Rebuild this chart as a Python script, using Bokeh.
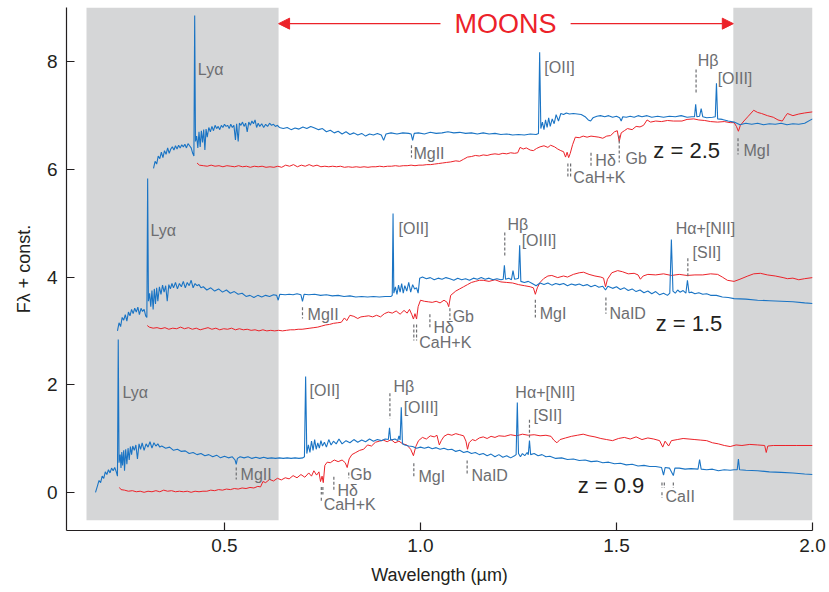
from bokeh.plotting import figure
from bokeh.models import Range1d, BoxAnnotation, Arrow, NormalHead, ColumnDataSource, FixedTicker, PrintfTickFormatter
from bokeh.core.properties import value
from bokeh.embed import file_html
from bokeh.resources import INLINE

# ---------------- data (wavelength in micron, flux + constant) ----------------
BLUE_Z09 = [(0.171,0.00),(0.176,0.12),(0.180,0.22),(0.184,0.18),(0.188,0.30),(0.192,0.26),(0.196,0.38),(0.200,0.33),
 (0.204,0.42),(0.208,0.36),(0.212,0.45),(0.216,0.40),(0.220,0.46),(0.224,0.38),(0.227,0.30),(0.229,2.84),(0.231,0.55),
 (0.234,0.70),(0.236,0.45),(0.238,0.75),(0.240,0.50),(0.243,0.78),(0.245,0.40),(0.248,0.80),(0.251,0.52),(0.254,0.82),
 (0.257,0.60),(0.260,0.85),(0.263,0.70),(0.266,0.86),(0.270,0.78),(0.274,0.88),(0.278,0.62),(0.282,0.90),(0.286,0.80),
 (0.290,0.92),(0.295,0.78),(0.300,0.90),(0.305,0.84),(0.310,0.94),(0.315,0.82),(0.320,0.92),(0.325,0.86),(0.330,0.90),
 (0.335,0.84),(0.340,0.86),(0.350,0.82),(0.360,0.84),(0.370,0.78),(0.380,0.80),(0.390,0.76),(0.400,0.77),(0.410,0.72),
 (0.420,0.74),(0.430,0.70),(0.440,0.72),(0.450,0.68),(0.460,0.70),(0.470,0.66),(0.480,0.69),(0.490,0.64),(0.500,0.67),
 (0.510,0.64),(0.520,0.66),(0.527,0.60),(0.530,0.52),(0.533,0.63),(0.540,0.66),(0.550,0.64),(0.560,0.66),(0.570,0.63),
 (0.580,0.65),(0.590,0.63),(0.600,0.65),(0.610,0.63),(0.620,0.64),(0.630,0.63),(0.640,0.64),(0.650,0.63),(0.660,0.64),
 (0.670,0.63),(0.680,0.64),(0.690,0.63),(0.700,0.64),(0.704,0.66),(0.707,2.15),(0.710,0.72),(0.714,0.88),(0.718,0.74),
 (0.722,0.95),(0.726,0.78),(0.730,0.98),(0.734,0.80),(0.738,0.92),(0.742,0.82),(0.746,0.96),(0.750,0.86),(0.755,0.93),
 (0.760,0.84),(0.766,0.98),(0.772,0.88),(0.778,0.95),(0.785,0.90),(0.792,0.99),(0.800,0.90),(0.810,0.96),(0.820,0.92),
 (0.830,0.98),(0.840,0.93),(0.850,0.97),(0.860,0.94),(0.870,0.99),(0.880,0.95),(0.890,0.98),(0.900,0.96),(0.910,0.99),
 (0.918,0.98),(0.921,1.20),(0.924,0.97),(0.935,0.99),(0.942,0.96),(0.945,1.05),(0.948,0.97),(0.951,1.58),(0.954,0.90),
 (0.960,0.88),(0.970,0.86),(0.980,0.85),(0.990,0.82),(1.000,0.84),(1.010,0.82),(1.020,0.84),(1.030,0.81),(1.040,0.83),
 (1.050,0.80),(1.060,0.82),(1.070,0.79),(1.080,0.80),(1.090,0.76),(1.100,0.78),(1.110,0.74),(1.120,0.76),(1.130,0.72),
 (1.140,0.74),(1.150,0.70),(1.160,0.72),(1.170,0.68),(1.180,0.71),(1.190,0.66),(1.200,0.70),(1.210,0.65),(1.220,0.68),
 (1.230,0.64),(1.240,0.68),(1.244,0.70),(1.247,1.67),(1.250,0.72),(1.255,0.66),(1.260,0.72),(1.266,0.68),(1.272,0.74),
 (1.275,0.70),(1.278,0.96),(1.281,0.70),(1.290,0.72),(1.300,0.68),(1.310,0.70),(1.320,0.66),(1.330,0.67),(1.345,0.63),
 (1.360,0.64),(1.375,0.61),(1.390,0.62),(1.405,0.59),(1.420,0.60),(1.435,0.57),(1.450,0.58),(1.465,0.55),(1.480,0.56),
 (1.495,0.53),(1.510,0.54),(1.525,0.51),(1.540,0.52),(1.555,0.49),(1.570,0.50),(1.585,0.48),(1.600,0.48),(1.615,0.46),
 (1.620,0.32),(1.624,0.46),(1.635,0.45),(1.645,0.31),(1.649,0.45),(1.660,0.45),(1.675,0.43),(1.690,0.44),(1.708,0.43),
 (1.712,0.61),(1.716,0.43),(1.730,0.42),(1.745,0.43),(1.760,0.40),(1.775,0.42),(1.790,0.41),(1.800,0.42),(1.808,0.42),
 (1.811,0.62),(1.814,0.42),(1.830,0.41),(1.860,0.40),(1.890,0.38),(1.920,0.37),(1.950,0.36),(1.980,0.34),(2.000,0.33)]

RED_Z09 = [(0.232,0.09),(0.236,0.05),(0.245,0.04),(0.255,0.02),(0.265,0.03),(0.275,0.01),(0.285,0.02),(0.295,0.00),
 (0.305,0.02),(0.315,0.01),(0.325,0.03),(0.335,0.01),(0.345,0.04),(0.355,0.02),(0.365,0.03),(0.375,0.01),(0.385,0.02),
 (0.395,0.01),(0.405,0.02),(0.415,0.00),(0.425,0.02),(0.435,0.01),(0.445,0.02),(0.455,0.02),(0.465,0.04),(0.475,0.03),
 (0.485,0.05),(0.495,0.04),(0.505,0.06),(0.515,0.05),(0.525,0.07),(0.535,0.06),(0.545,0.08),(0.555,0.07),(0.565,0.09),
 (0.575,0.08),(0.585,0.11),(0.592,0.10),(0.598,0.20),(0.605,0.18),(0.615,0.24),(0.625,0.21),(0.635,0.26),(0.645,0.23),
 (0.655,0.27),(0.665,0.25),(0.675,0.31),(0.685,0.27),(0.695,0.33),(0.705,0.28),(0.715,0.36),(0.722,0.30),(0.728,0.40),
 (0.735,0.32),(0.741,0.38),(0.745,0.20),(0.749,0.30),(0.752,0.18),(0.756,0.50),(0.762,0.56),(0.770,0.55),(0.780,0.60),
 (0.790,0.57),(0.800,0.60),(0.808,0.55),(0.813,0.46),(0.818,0.62),(0.825,0.70),(0.835,0.74),(0.845,0.78),(0.855,0.80),
 (0.865,0.88),(0.875,0.86),(0.885,0.93),(0.895,0.95),(0.905,0.97),(0.915,0.94),(0.925,0.98),(0.935,0.92),(0.945,0.95),
 (0.955,0.90),(0.965,0.88),(0.975,0.80),(0.982,0.68),(0.988,0.85),(0.995,0.96),(1.005,1.02),(1.015,0.99),(1.025,1.05),
 (1.035,1.03),(1.042,1.06),(1.048,0.88),(1.053,0.96),(1.060,1.04),(1.070,1.08),(1.080,1.06),(1.090,1.09),(1.100,1.07),
 (1.110,1.05),(1.116,0.95),(1.120,0.80),(1.124,0.92),(1.132,0.98),(1.140,0.96),(1.150,1.01),(1.160,1.03),(1.170,1.00),
 (1.180,1.04),(1.190,1.02),(1.200,1.05),(1.215,1.04),(1.230,1.07),(1.245,1.05),(1.260,1.08),(1.275,1.06),(1.290,1.07),
 (1.305,1.05),(1.320,1.06),(1.333,1.04),(1.340,0.97),(1.348,0.92),(1.356,0.98),(1.370,1.01),(1.385,1.04),(1.400,1.06),
 (1.415,1.08),(1.430,1.05),(1.445,1.03),(1.460,1.00),(1.475,0.98),(1.490,0.96),(1.505,1.00),(1.520,1.02),(1.535,0.99),
 (1.550,1.03),(1.565,0.98),(1.580,1.01),(1.595,0.99),(1.610,0.96),(1.618,0.84),(1.624,0.95),(1.633,0.86),(1.640,0.96),
 (1.655,0.98),(1.670,1.00),(1.685,0.99),(1.700,0.98),(1.715,0.97),(1.730,0.96),(1.745,0.92),(1.760,0.90),(1.775,0.87),
 (1.790,0.85),(1.805,0.88),(1.820,0.87),(1.840,0.89),(1.860,0.88),(1.878,0.87),(1.882,0.74),(1.886,0.86),(1.900,0.87),
 (1.930,0.87),(1.960,0.87),(2.000,0.87)]

BLUE_Z15 = [(0.227,3.00),(0.231,3.15),(0.235,3.08),(0.239,3.25),(0.243,3.20),(0.247,3.30),(0.251,3.18),(0.255,3.35),
 (0.259,3.28),(0.263,3.40),(0.267,3.32),(0.271,3.42),(0.275,3.35),(0.279,3.44),(0.283,3.30),(0.287,3.42),(0.291,3.36),
 (0.295,3.40),(0.299,3.28),(0.302,3.25),(0.304,5.83),(0.306,3.55),(0.309,3.70),(0.312,3.45),(0.315,3.75),(0.318,3.40),
 (0.321,3.78),(0.324,3.50),(0.327,3.80),(0.330,3.55),(0.334,3.82),(0.338,3.68),(0.342,3.85),(0.346,3.72),(0.350,3.84),
 (0.354,3.55),(0.358,3.86),(0.362,3.78),(0.366,3.88),(0.370,3.80),(0.375,3.90),(0.380,3.78),(0.385,3.88),(0.390,3.82),
 (0.395,3.92),(0.400,3.80),(0.405,3.90),(0.410,3.84),(0.415,3.94),(0.420,3.80),(0.425,3.88),(0.430,3.84),(0.435,3.86),
 (0.440,3.80),(0.446,3.82),(0.455,3.76),(0.465,3.80),(0.475,3.74),(0.485,3.78),(0.495,3.72),(0.505,3.76),(0.515,3.70),
 (0.525,3.73),(0.535,3.68),(0.545,3.70),(0.555,3.64),(0.565,3.66),(0.575,3.62),(0.585,3.66),(0.595,3.63),(0.605,3.66),
 (0.615,3.64),(0.625,3.67),(0.633,3.66),(0.637,3.57),(0.641,3.68),(0.655,3.67),(0.665,3.68),(0.675,3.67),(0.685,3.69),
 (0.695,3.67),(0.699,3.55),(0.703,3.68),(0.715,3.67),(0.730,3.68),(0.745,3.66),(0.760,3.67),(0.775,3.65),(0.790,3.66),
 (0.805,3.64),(0.820,3.65),(0.835,3.63),(0.850,3.64),(0.865,3.63),(0.880,3.64),(0.895,3.63),(0.910,3.64),(0.925,3.64),
 (0.928,3.66),(0.930,5.18),(0.932,3.70),(0.936,3.82),(0.940,3.68),(0.944,3.85),(0.948,3.72),(0.952,3.88),(0.956,3.70),
 (0.960,3.84),(0.965,3.74),(0.970,3.90),(0.975,3.72),(0.980,3.86),(0.985,3.78),(0.990,3.80),(0.994,3.70),(0.998,3.98),
 (1.005,4.00),(1.015,3.97),(1.025,3.99),(1.035,3.95),(1.045,3.98),(1.055,3.96),(1.065,3.99),(1.075,3.97),(1.085,3.94),
 (1.095,3.98),(1.105,3.95),(1.115,3.97),(1.125,3.94),(1.135,3.98),(1.145,3.96),(1.155,3.99),(1.165,3.96),(1.175,3.98),
 (1.185,3.95),(1.195,3.97),(1.205,3.95),(1.211,3.96),(1.214,4.22),(1.217,3.96),(1.225,3.98),(1.232,3.95),(1.236,4.12),
 (1.240,3.96),(1.246,3.97),(1.250,3.98),(1.253,4.59),(1.256,3.92),(1.265,3.90),(1.275,3.92),(1.285,3.88),(1.295,3.84),
 (1.305,3.89),(1.315,3.86),(1.325,3.89),(1.335,3.85),(1.345,3.88),(1.355,3.86),(1.365,3.88),(1.375,3.84),(1.385,3.87),
 (1.395,3.85),(1.405,3.87),(1.415,3.84),(1.425,3.86),(1.435,3.82),(1.445,3.85),(1.455,3.81),(1.465,3.83),(1.472,3.76),
 (1.478,3.83),(1.490,3.79),(1.500,3.82),(1.510,3.77),(1.520,3.80),(1.530,3.75),(1.540,3.78),(1.550,3.73),(1.560,3.76),
 (1.570,3.71),(1.580,3.74),(1.590,3.69),(1.600,3.73),(1.610,3.67),(1.620,3.70),(1.630,3.66),(1.636,3.70),(1.640,4.70),
 (1.644,3.74),(1.650,3.70),(1.656,3.76),(1.662,3.72),(1.670,3.75),(1.677,3.70),(1.681,3.94),(1.685,3.71),(1.692,3.72),
 (1.700,3.69),(1.710,3.71),(1.720,3.68),(1.730,3.69),(1.740,3.66),(1.755,3.66),(1.770,3.63),(1.785,3.62),(1.800,3.60),
 (1.830,3.59),(1.860,3.57),(1.890,3.56),(1.920,3.55),(1.950,3.54),(1.980,3.52),(2.000,3.51)]

RED_Z15 = [(0.303,3.10),(0.308,3.07),(0.318,3.05),(0.328,3.06),(0.338,3.04),(0.348,3.06),(0.358,3.03),(0.368,3.05),
 (0.378,3.04),(0.388,3.07),(0.398,3.04),(0.408,3.06),(0.418,3.03),(0.428,3.05),(0.438,3.02),(0.448,3.04),(0.458,3.06),
 (0.468,3.03),(0.478,3.05),(0.488,3.02),(0.498,3.04),(0.508,3.03),(0.518,3.05),(0.528,3.02),(0.538,3.04),(0.548,3.02),
 (0.558,3.03),(0.568,3.01),(0.578,3.02),(0.588,3.00),(0.598,3.02),(0.608,3.00),(0.618,3.01),(0.628,3.00),(0.638,3.01),
 (0.648,3.00),(0.658,3.01),(0.668,3.02),(0.678,3.02),(0.688,3.03),(0.698,3.03),(0.708,3.04),(0.718,3.05),(0.728,3.06),
 (0.738,3.07),(0.748,3.09),(0.758,3.11),(0.768,3.12),(0.778,3.14),(0.788,3.15),(0.798,3.16),(0.806,3.24),(0.812,3.19),
 (0.820,3.29),(0.830,3.27),(0.840,3.23),(0.848,3.26),(0.858,3.27),(0.868,3.28),(0.878,3.26),(0.888,3.29),(0.898,3.26),
 (0.908,3.32),(0.918,3.35),(0.928,3.33),(0.938,3.37),(0.948,3.31),(0.958,3.38),(0.966,3.33),(0.972,3.40),(0.978,3.30),
 (0.982,3.22),(0.986,3.32),(0.990,3.22),(0.994,3.45),(1.000,3.57),(1.010,3.55),(1.020,3.54),(1.030,3.53),(1.040,3.55),
 (1.050,3.52),(1.060,3.57),(1.068,3.53),(1.072,3.45),(1.077,3.66),(1.090,3.74),(1.100,3.78),(1.110,3.82),(1.120,3.86),
 (1.130,3.90),(1.140,3.92),(1.150,3.94),(1.160,3.94),(1.175,3.92),(1.190,3.95),(1.205,3.91),(1.220,3.90),(1.235,3.89),
 (1.250,3.86),(1.265,3.84),(1.280,3.82),(1.288,3.80),(1.293,3.68),(1.298,3.80),(1.305,3.90),(1.314,3.97),(1.325,4.02),
 (1.335,4.03),(1.350,3.99),(1.365,4.02),(1.375,4.00),(1.390,4.05),(1.405,4.08),(1.416,4.09),(1.430,4.05),(1.445,4.02),
 (1.460,4.00),(1.467,3.98),(1.472,3.82),(1.477,3.96),(1.488,4.08),(1.503,4.12),(1.515,4.10),(1.530,4.06),(1.545,4.07),
 (1.555,4.04),(1.561,3.96),(1.568,4.02),(1.580,4.05),(1.600,4.04),(1.620,4.06),(1.640,4.03),(1.660,4.05),(1.680,4.03),
 (1.700,4.04),(1.720,4.04),(1.740,4.06),(1.758,4.05),(1.770,4.00),(1.783,3.94),(1.800,3.92),(1.815,3.96),(1.835,4.02),
 (1.850,4.06),(1.867,4.07),(1.885,4.04),(1.905,4.02),(1.925,3.99),(1.936,3.97),(1.950,3.98),(1.965,3.95),(1.980,3.97),
 (2.000,3.99)]

BLUE_Z25 = [(0.319,6.02),(0.323,6.15),(0.327,6.10),(0.331,6.25),(0.335,6.20),(0.339,6.32),(0.343,6.22),(0.347,6.35),
 (0.351,6.28),(0.355,6.40),(0.359,6.30),(0.363,6.38),(0.367,6.42),(0.371,6.36),(0.375,6.44),(0.379,6.38),(0.383,6.45),
 (0.387,6.40),(0.391,6.46),(0.395,6.42),(0.399,6.47),(0.403,6.40),(0.407,6.48),(0.411,6.44),(0.415,6.40),(0.419,6.30),
 (0.422,6.25),(0.424,8.86),(0.426,6.52),(0.429,6.62),(0.432,6.40),(0.435,6.70),(0.438,6.42),(0.441,6.72),(0.444,6.50),
 (0.447,6.74),(0.450,6.36),(0.453,6.75),(0.456,6.60),(0.460,6.78),(0.464,6.70),(0.468,6.80),(0.472,6.72),(0.476,6.82),
 (0.480,6.76),(0.484,6.80),(0.488,6.74),(0.492,6.82),(0.496,6.78),(0.500,6.84),(0.504,6.80),(0.508,6.82),(0.512,6.76),
 (0.516,6.84),(0.520,6.78),(0.524,6.82),(0.528,6.55),(0.531,6.85),(0.535,6.52),(0.538,6.86),(0.542,6.82),(0.546,6.88),
 (0.550,6.80),(0.554,6.86),(0.558,6.70),(0.562,6.88),(0.566,6.82),(0.570,6.90),(0.574,6.85),(0.578,6.92),(0.582,6.78),
 (0.586,6.86),(0.590,6.80),(0.595,6.85),(0.600,6.78),(0.605,6.84),(0.610,6.80),(0.615,6.86),(0.620,6.82),(0.625,6.84),
 (0.630,6.80),(0.635,6.82),(0.640,6.78),(0.650,6.76),(0.660,6.78),(0.670,6.74),(0.680,6.77),(0.690,6.75),(0.700,6.79),
 (0.710,6.76),(0.720,6.80),(0.730,6.77),(0.740,6.74),(0.750,6.76),(0.760,6.70),(0.770,6.73),(0.780,6.68),(0.790,6.71),
 (0.800,6.66),(0.810,6.70),(0.820,6.65),(0.830,6.68),(0.840,6.64),(0.850,6.67),(0.860,6.62),(0.870,6.66),(0.880,6.64),
 (0.890,6.67),(0.900,6.64),(0.906,6.54),(0.912,6.66),(0.925,6.68),(0.940,6.66),(0.955,6.68),(0.970,6.67),(0.976,6.66),
 (0.980,6.54),(0.984,6.67),(0.995,6.68),(1.010,6.66),(1.025,6.69),(1.040,6.67),(1.055,6.68),(1.070,6.70),(1.085,6.68),
 (1.100,6.69),(1.115,6.67),(1.130,6.68),(1.145,6.66),(1.160,6.68),(1.175,6.66),(1.190,6.67),(1.205,6.65),(1.220,6.66),
 (1.235,6.64),(1.250,6.65),(1.265,6.64),(1.280,6.66),(1.295,6.65),(1.301,6.67),(1.304,8.18),(1.307,6.76),(1.311,6.88),
 (1.315,6.74),(1.319,6.92),(1.323,6.78),(1.327,6.96),(1.331,6.80),(1.336,6.94),(1.341,6.85),(1.346,7.02),(1.352,6.90),
 (1.358,7.04),(1.365,7.02),(1.372,7.05),(1.380,7.03),(1.390,7.04),(1.400,7.03),(1.410,7.02),(1.420,6.98),(1.428,6.92),
 (1.434,6.90),(1.440,6.96),(1.450,6.99),(1.459,7.00),(1.470,6.98),(1.480,7.00),(1.490,6.97),(1.500,6.99),(1.508,6.96),
 (1.512,6.90),(1.516,6.98),(1.525,6.97),(1.535,6.99),(1.545,6.97),(1.555,7.00),(1.565,6.98),(1.578,7.00),(1.590,6.97),
 (1.605,6.99),(1.620,6.97),(1.635,6.99),(1.650,6.98),(1.665,7.00),(1.680,6.97),(1.692,6.98),(1.699,6.98),(1.702,7.21),
 (1.705,6.98),(1.712,6.99),(1.716,7.13),(1.720,6.98),(1.730,6.96),(1.745,6.97),(1.752,6.98),(1.755,7.60),(1.758,6.94),
 (1.770,6.93),(1.785,6.90),(1.800,6.88),(1.815,6.83),(1.830,6.86),(1.845,6.84),(1.860,6.86),(1.875,6.83),(1.890,6.85),
 (1.905,6.84),(1.920,6.86),(1.935,6.83),(1.950,6.85),(1.965,6.84),(1.980,6.86),(2.000,6.94)]

RED_Z25 = [(0.430,6.12),(0.436,6.08),(0.446,6.07),(0.456,6.06),(0.466,6.08),(0.476,6.06),(0.486,6.07),(0.496,6.05),
 (0.506,6.07),(0.516,6.06),(0.526,6.05),(0.536,6.07),(0.546,6.05),(0.556,6.06),(0.566,6.04),(0.576,6.06),(0.586,6.05),
 (0.596,6.06),(0.606,6.04),(0.616,6.05),(0.626,6.04),(0.636,6.06),(0.646,6.04),(0.656,6.08),(0.666,6.06),(0.676,6.09),
 (0.686,6.05),(0.696,6.08),(0.706,6.06),(0.716,6.09),(0.726,6.06),(0.736,6.08),(0.746,6.05),(0.756,6.06),(0.766,6.05),
 (0.776,6.06),(0.786,6.05),(0.796,6.06),(0.806,6.04),(0.816,6.05),(0.826,6.04),(0.836,6.05),(0.846,6.04),(0.856,6.05),
 (0.866,6.04),(0.876,6.05),(0.886,6.05),(0.896,6.06),(0.906,6.05),(0.916,6.06),(0.926,6.06),(0.936,6.07),(0.946,6.06),
 (0.956,6.07),(0.966,6.07),(0.976,6.08),(0.986,6.07),(0.996,6.08),(1.006,6.08),(1.016,6.09),(1.026,6.09),(1.036,6.10),
 (1.046,6.11),(1.056,6.12),(1.066,6.13),(1.077,6.14),(1.090,6.16),(1.100,6.15),(1.110,6.19),(1.120,6.23),(1.130,6.24),
 (1.140,6.26),(1.150,6.25),(1.160,6.27),(1.170,6.26),(1.180,6.28),(1.190,6.29),(1.200,6.28),(1.210,6.30),(1.220,6.29),
 (1.230,6.31),(1.240,6.30),(1.248,6.31),(1.254,6.41),(1.262,6.38),(1.270,6.40),(1.280,6.36),(1.288,6.35),(1.296,6.39),
 (1.305,6.42),(1.315,6.44),(1.325,6.41),(1.332,6.45),(1.342,6.42),(1.350,6.38),(1.358,6.35),(1.365,6.33),(1.370,6.23),
 (1.374,6.32),(1.378,6.22),(1.382,6.30),(1.388,6.46),(1.395,6.60),(1.405,6.59),(1.415,6.62),(1.425,6.60),(1.435,6.62),
 (1.445,6.61),(1.455,6.60),(1.465,6.58),(1.475,6.62),(1.485,6.63),(1.495,6.70),(1.502,6.72),(1.507,6.52),(1.512,6.68),
 (1.520,6.72),(1.528,6.76),(1.540,6.74),(1.550,6.80),(1.560,6.79),(1.569,6.82),(1.578,6.92),(1.587,6.88),(1.600,6.90),
 (1.615,6.89),(1.630,6.91),(1.645,6.90),(1.667,6.90),(1.680,6.93),(1.697,6.94),(1.710,6.92),(1.725,6.91),(1.740,6.89),
 (1.758,6.88),(1.775,6.89),(1.790,6.87),(1.800,6.87),(1.806,6.80),(1.811,6.71),(1.816,6.82),(1.825,6.90),(1.835,6.98),
 (1.850,7.10),(1.860,7.06),(1.870,7.04),(1.885,7.00),(1.900,6.97),(1.912,6.92),(1.923,6.90),(1.930,6.98),(1.936,7.04),
 (1.950,7.00),(1.965,7.03),(1.980,7.05),(2.000,7.07)]

X_TICKS = [0.5, 1.0, 1.5, 2.0]
Y_TICKS = [0, 2, 4, 6, 8]
REDSHIFTS = ["z = 0.9", "z = 1.5", "z = 2.5"]
MOONS_BAND = (0.638, 1.798)          # wavelength coverage of MOONS
GREY_BANDS = [(0.148, 0.638), (1.798, 2.0)]

# line identifications: (text, x of text, y of text)
LINE_LABELS = [
    ("Lyα", 0.432, 7.86), ("[OII]", 1.316, 7.90), ("Hβ", 1.707, 8.03), ("[OIII]", 1.758, 7.69),
    ("MgII", 0.982, 6.30), ("CaH+K", 1.390, 5.85), ("Hδ", 1.446, 6.17), ("Gb", 1.523, 6.20), ("MgI", 1.824, 6.35),
    ("Lyα", 0.311, 4.87), ("[OII]", 0.944, 4.90), ("Hβ", 1.222, 4.98), ("[OIII]", 1.258, 4.68),
    ("MgII", 0.712, 3.30), ("CaH+K", 0.997, 2.78), ("Hδ", 1.033, 3.06), ("Gb", 1.082, 3.27),
    ("MgI", 1.304, 3.32), ("NaID", 1.482, 3.32), ("Hα+[NII]", 1.651, 4.90), ("[SII]", 1.694, 4.46),
    ("Lyα", 0.240, 1.86), ("[OII]", 0.717, 1.89), ("MgII", 0.541, 0.33), ("CaH+K", 0.753, -0.23),
    ("Hδ", 0.788, 0.03), ("Gb", 0.821, 0.33), ("Hβ", 0.931, 1.97), ("[OIII]", 0.957, 1.58),
    ("MgI", 0.995, 0.29), ("NaID", 1.130, 0.31), ("Hα+[NII]", 1.242, 1.86), ("[SII]", 1.288, 1.43),
    ("CaII", 1.625, -0.08),
]
# dashed line markers: (x, y top, y bottom)
MARKERS = [
    (1.703, 7.86, 7.41), (0.977, 6.45, 6.22), (1.376, 6.11, 5.83), (1.383, 6.11, 5.83),
    (1.435, 6.31, 6.03), (1.507, 6.63, 6.13), (1.810, 6.58, 6.28),
    (1.215, 4.83, 4.40), (0.699, 3.44, 3.23), (0.983, 3.12, 2.82), (0.990, 3.12, 2.82),
    (1.024, 3.31, 3.05), (1.075, 3.42, 3.20), (1.293, 3.58, 3.25), (1.473, 3.62, 3.32), (1.682, 4.35, 4.00),
    (0.530, 0.46, 0.24), (0.747, 0.10, -0.04), (0.751, 0.10, -0.04), (0.747, -0.10, -0.19),
    (0.779, 0.29, 0.01), (0.817, 0.37, 0.26), (0.922, 1.84, 1.37), (0.983, 0.54, 0.28),
    (1.119, 0.59, 0.31), (1.278, 1.35, 1.02),
    (1.616, 0.18, 0.08), (1.622, 0.18, 0.08), (1.645, 0.18, 0.08), (1.616, 0.00, -0.10),
]
Z_LABEL_POS = [(1.401, 0.13), (1.600, 3.14), (1.594, 6.35)]

# ---------------- styling ----------------
BLUE = "#1a74c4"
RED = "#ec2229"
GREY_TXT = "#6d6e71"
DARK = "#231f20"
FONT = "Liberation Sans"

p = figure(width=829, height=592, output_backend="svg", toolbar_location=None,
           x_range=Range1d(0.097, 2.0), y_range=Range1d(-0.71, 9.01),
           min_border_left=66, min_border_right=17, min_border_top=7, min_border_bottom=62)
p.outline_line_color = None
p.grid.grid_line_color = None
p.background_fill_color = "white"

for (l, r) in GREY_BANDS:
    p.add_layout(BoxAnnotation(left=l, right=r, bottom=-0.52, top=9.01, fill_color="#d5d6d7",
                               fill_alpha=1.0, line_color=None, level="underlay"))

for spec, col, lw in [(RED_Z09, RED, 1.0), (RED_Z15, RED, 1.0), (RED_Z25, RED, 1.0),
                      (BLUE_Z09, BLUE, 1.1), (BLUE_Z15, BLUE, 1.1), (BLUE_Z25, BLUE, 1.1)]:
    xs = [a for a, b in spec]
    ys = [b for a, b in spec]
    p.line(xs, ys, line_color=col, line_width=lw)

# markers
p.segment(x0=[m[0] for m in MARKERS], y0=[m[1] for m in MARKERS],
          x1=[m[0] for m in MARKERS], y1=[m[2] for m in MARKERS],
          line_color=GREY_TXT, line_width=1.2, line_dash="3 2")

lab_src = ColumnDataSource(dict(x=[l[1] for l in LINE_LABELS], y=[l[2] for l in LINE_LABELS],
                                t=[l[0] for l in LINE_LABELS]))
p.text(x="x", y="y", text="t", source=lab_src, text_font=value(FONT), text_font_size="16px",
       text_color=GREY_TXT, text_align="left", text_baseline="middle")

p.text(x=[z[0] for z in Z_LABEL_POS], y=[z[1] for z in Z_LABEL_POS], text=REDSHIFTS,
       text_font=value(FONT), text_font_size="22px", text_color=DARK,
       text_align="left", text_baseline="middle")

# MOONS band arrows
p.add_layout(Arrow(end=NormalHead(size=11, fill_color=RED, line_color=RED, line_width=1),
                   x_start=1.051, y_start=8.71, x_end=MOONS_BAND[0], y_end=8.71,
                   line_color=RED, line_width=1.2))
p.add_layout(Arrow(end=NormalHead(size=11, fill_color=RED, line_color=RED, line_width=1),
                   x_start=1.383, y_start=8.71, x_end=MOONS_BAND[1], y_end=8.71,
                   line_color=RED, line_width=1.2))
p.text(x=[1.217], y=[8.71], text=["MOONS"], text_font=value(FONT), text_font_size="27px",
       text_color=RED, text_align="center", text_baseline="middle")

# axes
p.xaxis.ticker = FixedTicker(ticks=X_TICKS)
p.yaxis.ticker = FixedTicker(ticks=Y_TICKS)
p.xaxis.formatter = PrintfTickFormatter(format="%.1f")
p.yaxis.formatter = PrintfTickFormatter(format="%d")
p.xaxis.axis_label = "Wavelength (µm)"
p.yaxis.axis_label = "Fλ + const."
for ax in (p.xaxis[0], p.yaxis[0]):
    ax.axis_line_color = DARK
    ax.axis_line_width = 1.2
    ax.major_tick_line_color = DARK
    ax.major_tick_line_width = 1.2
    ax.major_tick_in = 8
    ax.major_tick_out = 0
    ax.minor_tick_line_color = None
    ax.major_label_text_font = FONT
    ax.major_label_text_font_size = "19px"
    ax.major_label_text_color = DARK
    ax.axis_label_text_font = FONT
    ax.axis_label_text_font_size = "18px"
    ax.axis_label_text_font_style = "normal"
    ax.axis_label_text_color = DARK
p.xaxis.major_label_standoff = 8
p.xaxis.axis_label_standoff = 10
p.yaxis.major_label_standoff = 9
p.yaxis.axis_label_standoff = 10

open("out.html", "w").write(file_html(p, INLINE))
